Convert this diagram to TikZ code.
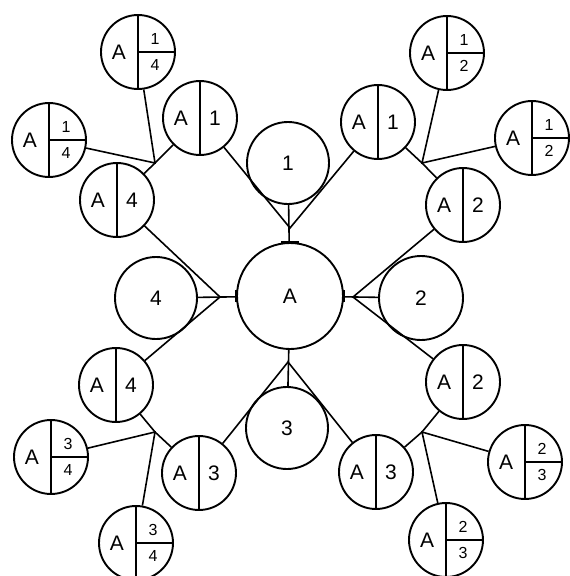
\documentclass[tikz,border=0pt]{standalone}
\usepackage{fontspec}
\setmainfont{Liberation Sans}
\tikzset{
  ring/.style={circle, draw, line width=1.9pt, minimum size=74pt, inner sep=0pt},
  big/.style={ring, minimum size=82pt},
  ln/.style={line width=1.6pt},
  lab/.style={inner sep=0pt, font=\fontsize{21}{23}\selectfont},
  small/.style={inner sep=0pt, font=\fontsize{16}{18}\selectfont},
}
\newcommand\splitc[4]{%
  \node[ring] (#1) at (#2,#3) {};
  \draw[ln] (#1.north) -- (#1.south);
  \node[lab] at ([xshift=-19pt]#1.center) {A};
  \node[lab] at ([xshift=15pt]#1.center) {#4};
}
\newcommand\fracc[5]{%
  \node[ring] (#1) at (#2,#3) {};
  \draw[ln] (#1.north) -- (#1.south);
  \draw[ln] (#1.center) -- (#1.east);
  \node[lab] at ([xshift=-19pt]#1.center) {A};
  \node[small] at ([xshift=17pt,yshift=13pt]#1.center) {#4};
  \node[small] at ([xshift=17pt,yshift=-13pt]#1.center) {#5};
}
\begin{document}
\begin{tikzpicture}[x=1pt,y=-1pt]
\useasboundingbox[fill=white] (0,0) rectangle (570,576);
% centre and first ring
\node[ring, minimum size=106pt, lab] (A) at (290,296) {A};
\node[big, lab] (c1) at (288,163) {1};
\node[big, minimum size=84pt, lab] (c2) at (421,298) {2};
\node[big, lab] (c3) at (287,428) {3};
\node[big, lab] (c4) at (156,298) {4};
% split circles
\splitc{a1l}{200}{118}{1}
\splitc{a1r}{378}{122}{1}
\splitc{a2u}{463}{205}{2}
\splitc{a2d}{463}{382}{2}
\splitc{a3l}{199}{473}{3}
\splitc{a3r}{376}{472}{3}
\splitc{a4u}{117}{200}{4}
\splitc{a4d}{116}{385}{4}
% fraction circles
\fracc{f14t}{138}{52}{1}{4}
\fracc{f14l}{49}{140}{1}{4}
\fracc{f12t}{447}{53}{1}{2}
\fracc{f12r}{532}{138}{1}{2}
\fracc{f34l}{51}{457}{3}{4}
\fracc{f34b}{136}{543}{3}{4}
\fracc{f23r}{525}{462}{2}{3}
\fracc{f23b}{446}{540}{2}{3}
% junctions
\coordinate (jt) at (290,228);
\coordinate (jr) at (353,297);
\coordinate (jb) at (288,362);
\coordinate (jl) at (220,297);
\coordinate (ul) at (155,163);
\coordinate (ur) at (422,163);
\coordinate (ll) at (155,432);
\coordinate (lr) at (422,432);
% stems between centre and first ring
\draw[ln] (c1) -- (A);
\draw[ln] ([xshift=-9pt]A.north) -- ([xshift=9pt]A.north);
\draw[ln] (c2) -- (A);
\draw[ln] ([yshift=-6pt]A.east) -- ([yshift=6pt]A.east);
\draw[ln] (c3) -- (A);
\draw[ln] (c4) -- (A);
\draw[ln] ([yshift=-6pt]A.west) -- ([yshift=6pt]A.west);
% junctions to split circles
\draw[ln] (a1l) -- (jt) -- (a1r);
\draw[ln] (a2u) -- (jr) -- (a2d);
\draw[ln] (a3l) -- (jb) -- (a3r);
\draw[ln] (a4u) -- (jl) -- (a4d);
% outer junctions
\draw[ln] (a1l) -- (ul) -- (a4u);
\draw[ln] (f14t) -- (ul) -- (f14l);
\draw[ln] (a1r) -- (ur) -- (a2u);
\draw[ln] (f12t) -- (ur) -- (f12r);
\draw[ln] (a4d) -- (ll) -- (a3l);
\draw[ln] (f34l) -- (ll) -- (f34b);
\draw[ln] (a2d) -- (lr) -- (a3r);
\draw[ln] (f23r) -- (lr) -- (f23b);
\end{tikzpicture}
\end{document}
